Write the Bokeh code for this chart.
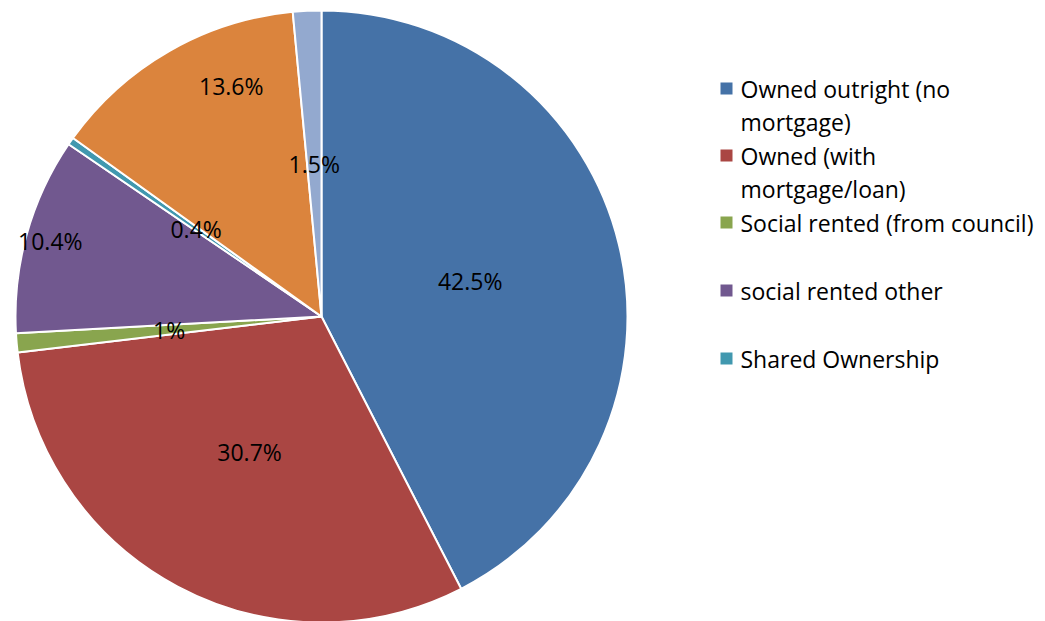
import math
from bokeh.plotting import figure
from bokeh.models import Range1d, ColumnDataSource
from bokeh.core.properties import value
from bokeh.embed import file_html
from bokeh.resources import INLINE

# ---- data ----
categories = ["Owned outright (no mortgage)", "Owned (with mortgage/loan)",
              "Social rented (from council)", "social rented other",
              "Shared Ownership", "Private rented", "Other"]
percent = [42.5, 30.7, 1.0, 10.4, 0.4, 13.6, 1.5]
label_text = ["42.5%", "30.7%", "1%", "10.4%", "0.4%", "13.6%", "1.5%"]
legend_lines = [["Owned outright (no", "mortgage)"],
                ["Owned (with", "mortgage/loan)"],
                ["Social rented (from council)"],
                ["social rented other"],
                ["Shared Ownership"]]

# ---- style ----
colors = ["#4572A7", "#AA4643", "#89A54E", "#71588F", "#4198AF", "#DB843D", "#93A9CF"]
label_r = [0.5, 0.5, 0.5, 0.92, 0.5, 0.81, 0.5]
label_da = [0, 0, 0, 0, 0, -8.5, 0]
FONT = "Open Sans"
FS = "23px"
W, H = 1045, 621
cx, cy, R = 321, -316, 306

p = figure(width=W, height=H, output_backend="svg", toolbar_location=None,
           x_range=Range1d(0, W), y_range=Range1d(-H, 0),
           min_border=0, outline_line_color=None, background_fill_color="white")
p.axis.visible = False
p.grid.visible = False

total = sum(percent)
starts, ends, mids = [], [], []
cum = 0.0
for v in percent:
    a0 = math.pi / 2 - 2 * math.pi * cum / total
    cum += v
    a1 = math.pi / 2 - 2 * math.pi * cum / total
    starts.append(a0)
    ends.append(a1)
    mids.append((a0 + a1) / 2)

src = ColumnDataSource(dict(start=starts, end=ends, color=colors,
                            x=[cx] * len(percent), y=[cy] * len(percent)))
p.wedge(x="x", y="y", radius=R, start_angle="start", end_angle="end",
        direction="clock", fill_color="color", line_color="white",
        line_width=2, source=src)

lx, ly = [], []
for m, rf, da in zip(mids, label_r, label_da):
    a = m + math.radians(da)
    lx.append(cx + rf * R * math.cos(a))
    ly.append(cy + rf * R * math.sin(a))
p.text(x=lx, y=ly, text=label_text, text_font=value(FONT), text_font_size=FS,
       text_align="center", text_baseline="middle", text_color="black")

# legend (manual, wrapped)
leg_x = 726
row_y = [-88, -155, -222, -290, -358]
line_h = 33
sq_x, sq_y, sq_c = [], [], []
tx, ty, tt = [], [], []
for i, (lines, yy) in enumerate(zip(legend_lines, row_y)):
    sq_x.append(leg_x)
    sq_y.append(yy)
    sq_c.append(colors[i])
    for j, t in enumerate(lines):
        tx.append(leg_x + 14)
        ty.append(yy - j * line_h)
        tt.append(t)
p.scatter(x=sq_x, y=sq_y, marker="square", size=12, fill_color=sq_c, line_color=None)
p.text(x=tx, y=ty, text=tt, text_font=value(FONT), text_font_size=FS,
       text_align="left", text_baseline="middle", text_color="black")

open("out.html", "w").write(file_html(p, INLINE))
